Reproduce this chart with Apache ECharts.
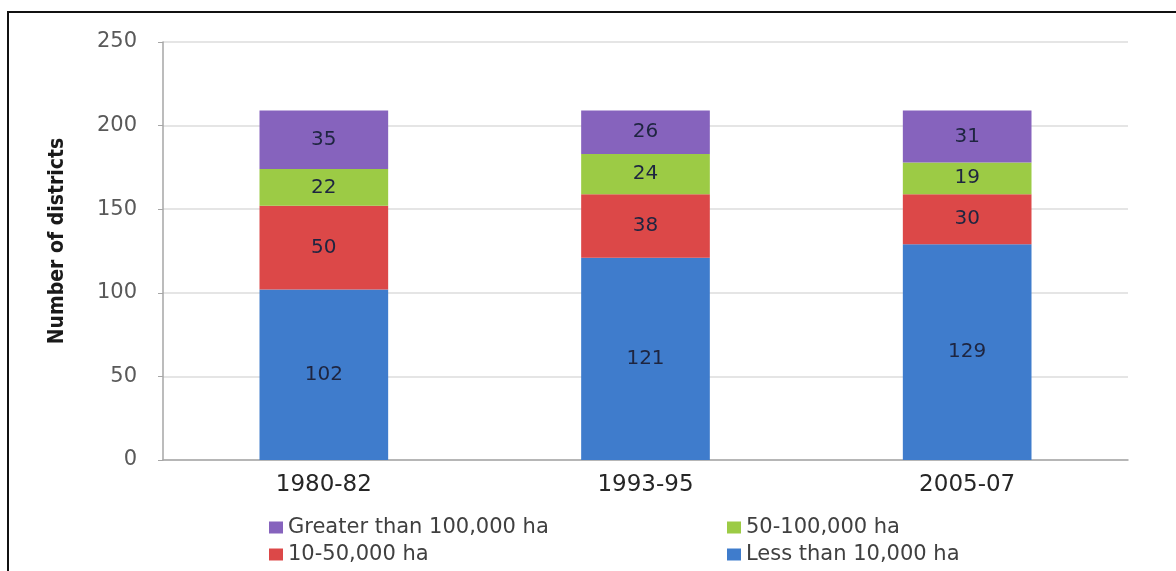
<!DOCTYPE html>
<html>
<head>
<meta charset="utf-8">
<script src="https://cdn.jsdelivr.net/npm/echarts@6/dist/echarts.min.js"></script>
<style>
  html, body { margin: 0; padding: 0; background: #ffffff; }
  #frame { position: absolute; left: 7px; top: 11px; width: 1169px; height: 560px;
           border-left: 2px solid #111; border-top: 2px solid #111; box-sizing: border-box; }
  #chart { position: absolute; left: 0; top: 0; width: 1176px; height: 571px; }
</style>
</head>
<body>
<div id="frame"></div>
<div id="chart"></div>
<script>
// Periods on the category axis
const periods = ['1980-82', '1993-95', '2005-07'];

// Number of districts in each area class, per period
const lessThan10k = [102, 121, 129];
const from10to50k = [50, 38, 30];
const from50to100k = [22, 24, 19];
const greaterThan100k = [35, 26, 31];

// Value axis ticks
const yTicks = [0, 50, 100, 150, 200, 250];

const seriesNames = {
  blue: 'Less than 10,000 ha',
  red: '10-50,000 ha',
  green: '50-100,000 ha',
  purple: 'Greater than 100,000 ha'
};

const font = '"DejaVu Sans", Verdana, sans-serif';

function stackSeries(name, data, color) {
  return {
    name: name,
    type: 'bar',
    stack: 'districts',
    data: data,
    barWidth: '40%',
    itemStyle: { color: color },
    label: {
      show: true,
      position: 'inside',
      color: '#1e2540',
      fontFamily: font,
      fontSize: 20
    }
  };
}

const chart = echarts.init(document.getElementById('chart'), null, { renderer: 'canvas' });

const legendText = { fontFamily: font, fontSize: 21, color: '#404040' };

chart.setOption({
  animation: false,
  backgroundColor: 'transparent',
  grid: { left: 163, right: 48, top: 42, bottom: 111 },
  legend: [
    {
      left: 264, top: 512, orient: 'vertical', itemGap: 6,
      itemWidth: 14, itemHeight: 12, icon: 'rect',
      textStyle: legendText,
      data: [seriesNames.purple, seriesNames.red]
    },
    {
      left: 722, top: 512, orient: 'vertical', itemGap: 6,
      itemWidth: 14, itemHeight: 12, icon: 'rect',
      textStyle: legendText,
      data: [seriesNames.green, seriesNames.blue]
    }
  ],
  xAxis: {
    type: 'category',
    data: periods,
    axisLine: { lineStyle: { color: '#a6a6a6', width: 1.5 } },
    axisTick: { show: false },
    axisLabel: { fontFamily: font, fontSize: 23, color: '#262626', margin: 14 }
  },
  yAxis: {
    type: 'value',
    min: yTicks[0],
    max: yTicks[yTicks.length - 1],
    interval: 50,
    name: 'Number of districts',
    nameLocation: 'middle',
    nameGap: 95,
    nameTextStyle: { fontFamily: '"DejaVu Sans Condensed", "Liberation Sans Narrow", sans-serif',
                     fontSize: 21, fontWeight: 'bold', color: '#1a1a1a',
                     padding: [0, 0, 0, 20] },
    axisLine: { show: true, lineStyle: { color: '#a6a6a6', width: 1.5 } },
    axisTick: { show: true, length: 5, lineStyle: { color: '#a6a6a6' } },
    axisLabel: { fontFamily: font, fontSize: 21, color: '#595959', margin: 26 },
    splitLine: { lineStyle: { color: '#dcdcdc', width: 1.5 } }
  },
  series: [
    stackSeries(seriesNames.blue, lessThan10k, '#3f7ccc'),
    stackSeries(seriesNames.red, from10to50k, '#dc4848'),
    stackSeries(seriesNames.green, from50to100k, '#9ccb45'),
    stackSeries(seriesNames.purple, greaterThan100k, '#8663bd')
  ]
});
</script>
</body>
</html>
